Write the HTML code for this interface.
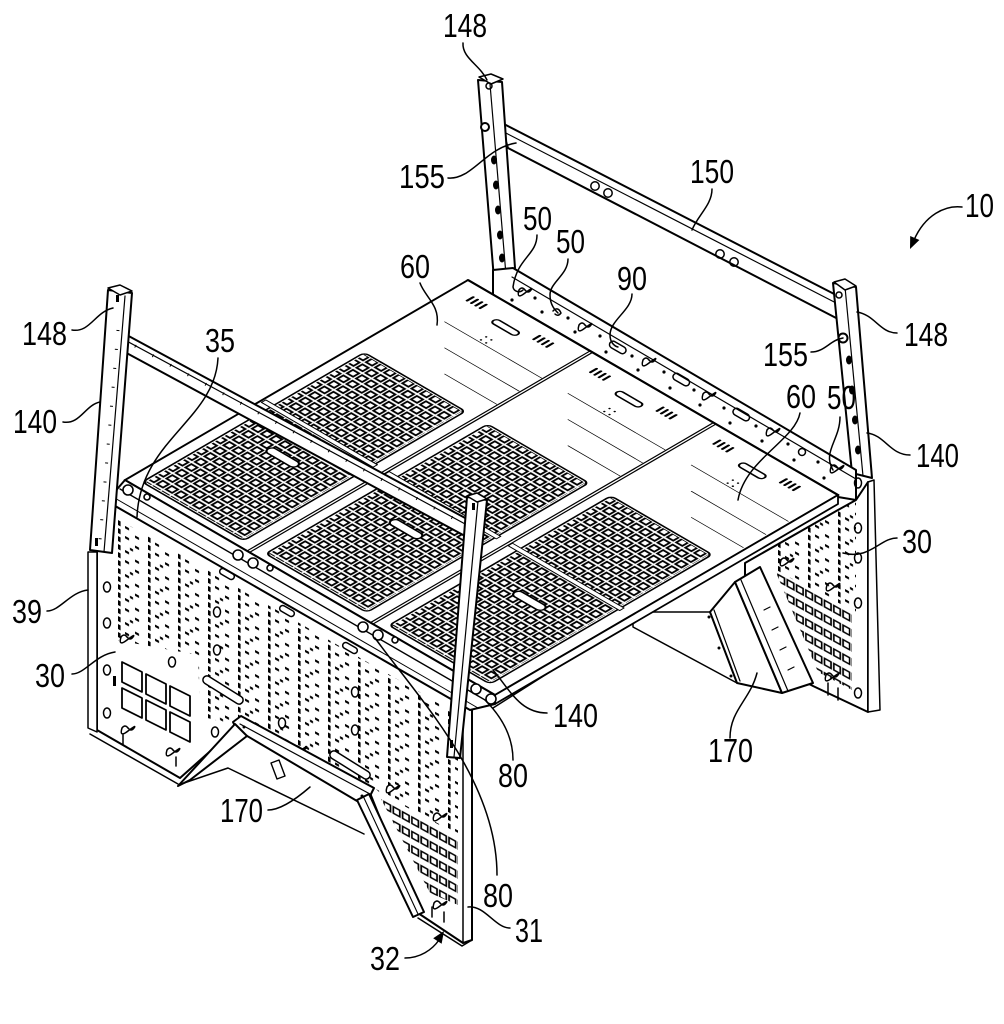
<!DOCTYPE html>
<html><head><meta charset="utf-8">
<style>
html,body{margin:0;padding:0;background:#fff;}
svg{display:block;}
text{font-family:"Liberation Sans",Arial,sans-serif;font-size:33px;fill:#000;}
</style></head><body>
<svg width="1004" height="1024" viewBox="0 0 1004 1024" xmlns="http://www.w3.org/2000/svg">
<defs>
 <pattern id="holes" width="10.5" height="11" patternUnits="userSpaceOnUse">
  <rect x="1.6" y="1.8" width="7" height="6.8" fill="#fff" stroke="#000" stroke-width="2.1"/>
 </pattern>
 <pattern id="perf" width="30" height="24" patternUnits="userSpaceOnUse" patternTransform="translate(118,520) skewY(29)">
  <rect x="0" y="0" width="2.6" height="5" fill="#000"/>
  <rect x="0" y="8" width="2.6" height="5" fill="#000"/>
  <rect x="0" y="16" width="2.6" height="5" fill="#000"/>
  <rect x="7" y="2" width="4" height="2.4" fill="#000"/>
  <rect x="17" y="6" width="4" height="2.4" fill="#000"/>
  <rect x="7" y="12" width="4" height="2.4" fill="#000"/>
  <rect x="17" y="16" width="4" height="2.4" fill="#000"/>
  <rect x="12" y="21" width="3" height="2.4" fill="#000"/>
 </pattern>
 <pattern id="sqf" width="9.3" height="14.5" patternUnits="userSpaceOnUse" patternTransform="translate(383,800) skewY(29)">
  <rect x="1" y="1" width="6.5" height="6.5" fill="#fff" stroke="#000" stroke-width="1.7"/>
 </pattern>
 <pattern id="sqr" width="9.3" height="14.5" patternUnits="userSpaceOnUse" patternTransform="translate(777,573) skewY(29)">
  <rect x="1" y="1" width="6.5" height="6.5" fill="#fff" stroke="#000" stroke-width="1.7"/>
 </pattern>
 <clipPath id="cpFront"><polygon points="116,518 458,714 458,835 380,793 372,785 245,728 200,716 198,655 116,640"/></clipPath>
 <clipPath id="cpSqF"><polygon points="380,797 458,838 458,905 430,893"/></clipPath>
 <clipPath id="cpSqR"><polygon points="775,570 852,613 852,690 818,672"/></clipPath>
 <clipPath id="cpRP"><polygon points="772,548 838,510 856,500 856,612 775,570"/></clipPath>
</defs>

<g fill="none" stroke="#000" stroke-linejoin="round" stroke-linecap="round">

<!-- ========== BACK FRAME ========== -->
<polygon points="500,122 840,297 840,320 508,148" fill="#fff" stroke-width="2"/>
<line x1="500" y1="130" x2="840" y2="305" stroke-width="1.2"/>
<circle cx="595" cy="186" r="4.2" stroke-width="1.5"/>
<circle cx="608" cy="193" r="4.2" stroke-width="1.5"/>
<circle cx="720" cy="254" r="4.2" stroke-width="1.5"/>
<circle cx="734" cy="262" r="4.2" stroke-width="1.5"/>

<polygon points="478,80 502,82 515,268 495,292" fill="#fff" stroke-width="2"/>
<line x1="490" y1="84" x2="506" y2="275" stroke-width="1.2"/>
<polygon points="479,77 491,74 503,79 491,84" fill="#fff" stroke-width="1.5"/>
<circle cx="489" cy="86" r="3" stroke-width="1.5"/>
<circle cx="485" cy="127" r="4" fill="#fff" stroke-width="2"/>
<g fill="#000" stroke="none">
<ellipse cx="494" cy="160" rx="3" ry="4.5"/><ellipse cx="496" cy="185" rx="3" ry="4.5"/>
<ellipse cx="498" cy="210" rx="3" ry="4.5"/><ellipse cx="500" cy="235" rx="3" ry="4.5"/>
<ellipse cx="502" cy="258" rx="3" ry="4.5"/>
</g>

<polygon points="833,283 856,287 872,478 852,473" fill="#fff" stroke-width="2"/>
<line x1="845" y1="287" x2="863" y2="476" stroke-width="1.2"/>
<polygon points="834,282 845,279 856,286 845,290" fill="#fff" stroke-width="1.5"/>
<circle cx="839" cy="295" r="3" stroke-width="1.5"/>
<circle cx="843" cy="338" r="4.5" fill="#fff" stroke-width="2"/>
<g fill="#000" stroke="none">
<ellipse cx="849" cy="360" rx="3" ry="4.5"/><ellipse cx="852" cy="390" rx="3" ry="4.5"/>
<ellipse cx="855" cy="420" rx="3" ry="4.5"/><ellipse cx="858" cy="450" rx="3" ry="4.5"/>
</g>

<polygon points="493,270 513,268 856,470 856,500 838,497 493,297" fill="#fff" stroke-width="2"/>
<line x1="512" y1="277" x2="856" y2="479" stroke-width="1.2"/>
<g stroke-width="1.5">
<path d="M519,290 q3,-4 6,0 t6,0 t-6,3 t-6,-3z"/>
<path d="M553,311 q5,-5 8,2 q-3,4 -6,1"/>
<path d="M579,325 q3,-4 6,0 t6,0 t-6,3 t-6,-3z"/>
<rect x="609" y="344" width="18" height="7" rx="3.5" transform="rotate(30 618 347)"/>
<path d="M643,360 q3,-4 6,0 t6,0 t-6,3 t-6,-3z"/>
<rect x="672" y="376" width="18" height="7" rx="3.5" transform="rotate(30 681 380)"/>
<path d="M703,394 q3,-4 6,0 t6,0 t-6,3 t-6,-3z"/>
<rect x="732" y="411" width="18" height="7" rx="3.5" transform="rotate(30 741 415)"/>
<path d="M767,430 q3,-4 6,0 t6,0 t-6,3 t-6,-3z"/>
<circle cx="802" cy="452" r="3.5"/>
<path d="M831,467 q3,-4 6,0 t6,0 t-6,3 t-6,-3z"/>
</g>
<g fill="#000" stroke="none">
<circle cx="512" cy="300" r="1.6"/><circle cx="535" cy="298" r="1.6"/><circle cx="542" cy="312" r="1.6"/>
<circle cx="568" cy="318" r="1.6"/><circle cx="575" cy="332" r="1.6"/><circle cx="600" cy="336" r="1.6"/>
<circle cx="606" cy="352" r="1.6"/><circle cx="632" cy="356" r="1.6"/><circle cx="638" cy="370" r="1.6"/>
<circle cx="664" cy="372" r="1.6"/><circle cx="670" cy="388" r="1.6"/><circle cx="694" cy="390" r="1.6"/>
<circle cx="700" cy="405" r="1.6"/><circle cx="724" cy="408" r="1.6"/><circle cx="730" cy="423" r="1.6"/>
<circle cx="756" cy="426" r="1.6"/><circle cx="762" cy="441" r="1.6"/><circle cx="788" cy="444" r="1.6"/>
<circle cx="794" cy="460" r="1.6"/><circle cx="818" cy="462" r="1.6"/><circle cx="824" cy="478" r="1.6"/>
</g>

<!-- ========== RIGHT PANEL ========== -->
<polygon points="745,563 838,510 856,500 868,482 868,712 813,686 745,650" fill="#fff" stroke-width="2"/>
<polygon points="868,482 874,480 880,710 868,712" fill="#fff" stroke-width="1.5"/>
<rect x="740" y="490" width="130" height="130" fill="url(#perf)" stroke="none" clip-path="url(#cpRP)"/>
<rect x="770" y="565" width="90" height="130" fill="url(#sqr)" stroke="none" clip-path="url(#cpSqR)"/>
<g stroke-width="1.5">
<ellipse cx="858" cy="483" rx="3.5" ry="5"/><ellipse cx="858" cy="528" rx="3.5" ry="5"/>
<ellipse cx="858" cy="558" rx="3.5" ry="5"/><ellipse cx="858" cy="603" rx="3.5" ry="5"/>
<ellipse cx="858" cy="693" rx="3.5" ry="5"/>
<path d="M781,560 q3,-4 6,0 t6,0 t-6,3 t-6,-3z"/>
<path d="M827,585 q3,-4 6,0 t6,0 t-6,3 t-6,-3z"/>
<path d="M826,675 q3,-4 6,0 t6,0 t-6,3 t-6,-3z"/>
<line x1="828" y1="683" x2="828" y2="695"/><line x1="838" y1="688" x2="838" y2="700"/>
</g>

<polygon points="633,612 710,612 737,683 633,627" fill="#fff" stroke-width="1.5"/>
<polygon points="710,612 735,582 782,693 737,683" fill="#fff" stroke-width="2"/>
<polygon points="735,582 760,567 813,683 782,693" fill="#fff" stroke-width="2"/>
<line x1="741" y1="580" x2="788" y2="691" stroke-width="1.2"/>
<line x1="714" y1="610" x2="740" y2="681" stroke-width="1.2"/>
<g stroke-width="1.2">
<line x1="764" y1="610" x2="770" y2="607"/><line x1="772" y1="630" x2="778" y2="627"/>
<line x1="780" y1="650" x2="786" y2="647"/><line x1="788" y1="670" x2="794" y2="667"/>
</g>
<circle cx="709" cy="617" r="1.5" fill="#000" stroke="none"/>
<circle cx="719" cy="648" r="1.5" fill="#000" stroke="none"/>
<circle cx="731" cy="676" r="1.5" fill="#000" stroke="none"/>

<polyline points="493,708 632,620 632,612" stroke-width="1.5"/>

<!-- ========== SHELF ========== -->
<g transform="matrix(0.8645 0.5023 -0.864 0.5038 468 280)">
 <polygon points="0,0 428,0 428,397 0,397" fill="#fff" stroke-width="2.2"/>
 <g>
  <rect x="14" y="134" width="113" height="253" fill="url(#holes)" stroke="none"/>
  <rect x="12" y="132" width="117" height="257" rx="5" stroke-width="1.8"/>
  <rect x="52" y="279" width="34" height="9" rx="4.5" fill="#fff" stroke-width="1.8"/>
  <rect x="2" y="236" width="129" height="5" fill="#fff" stroke-width="1.1"/>
  <rect x="55" y="22" width="28" height="7" rx="3.5" stroke-width="1.8"/>
  <g stroke-width="2.4"><line x1="20" y1="14" x2="20" y2="21"/><line x1="25" y1="14" x2="25" y2="21"/><line x1="30" y1="14" x2="30" y2="21"/><line x1="35" y1="14" x2="35" y2="21"/>
  <line x1="97" y1="14" x2="97" y2="21"/><line x1="102" y1="14" x2="102" y2="21"/><line x1="107" y1="14" x2="107" y2="21"/><line x1="112" y1="14" x2="112" y2="21"/></g>
  <g fill="#000" stroke="none"><circle cx="67" cy="46" r="1"/><circle cx="73" cy="46" r="1"/><circle cx="67" cy="52" r="1"/><circle cx="73" cy="52" r="1"/></g>
  <g stroke-width="0.8"><line x1="28" y1="55" x2="140" y2="55"/><line x1="54" y1="81" x2="140" y2="81"/><line x1="80" y1="107" x2="140" y2="107"/></g>
 </g>
 <g transform="translate(142.67 0)">
  <rect x="14" y="134" width="113" height="253" fill="url(#holes)" stroke="none"/>
  <rect x="12" y="132" width="117" height="257" rx="5" stroke-width="1.8"/>
  <rect x="52" y="279" width="34" height="9" rx="4.5" fill="#fff" stroke-width="1.8"/>
  <rect x="2" y="236" width="129" height="5" fill="#fff" stroke-width="1.1"/>
  <rect x="55" y="22" width="28" height="7" rx="3.5" stroke-width="1.8"/>
  <g stroke-width="2.4"><line x1="20" y1="14" x2="20" y2="21"/><line x1="25" y1="14" x2="25" y2="21"/><line x1="30" y1="14" x2="30" y2="21"/><line x1="35" y1="14" x2="35" y2="21"/>
  <line x1="97" y1="14" x2="97" y2="21"/><line x1="102" y1="14" x2="102" y2="21"/><line x1="107" y1="14" x2="107" y2="21"/><line x1="112" y1="14" x2="112" y2="21"/></g>
  <g fill="#000" stroke="none"><circle cx="67" cy="46" r="1"/><circle cx="73" cy="46" r="1"/><circle cx="67" cy="52" r="1"/><circle cx="73" cy="52" r="1"/></g>
  <g stroke-width="0.8"><line x1="28" y1="55" x2="140" y2="55"/><line x1="54" y1="81" x2="140" y2="81"/><line x1="80" y1="107" x2="140" y2="107"/></g>
 </g>
 <g transform="translate(285.33 0)">
  <rect x="14" y="134" width="113" height="253" fill="url(#holes)" stroke="none"/>
  <rect x="12" y="132" width="117" height="257" rx="5" stroke-width="1.8"/>
  <rect x="52" y="279" width="34" height="9" rx="4.5" fill="#fff" stroke-width="1.8"/>
  <rect x="2" y="236" width="129" height="5" fill="#fff" stroke-width="1.1"/>
  <rect x="55" y="22" width="28" height="7" rx="3.5" stroke-width="1.8"/>
  <g stroke-width="2.4"><line x1="20" y1="14" x2="20" y2="21"/><line x1="25" y1="14" x2="25" y2="21"/><line x1="30" y1="14" x2="30" y2="21"/><line x1="35" y1="14" x2="35" y2="21"/>
  <line x1="97" y1="14" x2="97" y2="21"/><line x1="102" y1="14" x2="102" y2="21"/><line x1="107" y1="14" x2="107" y2="21"/><line x1="112" y1="14" x2="112" y2="21"/></g>
  <g fill="#000" stroke="none"><circle cx="67" cy="46" r="1"/><circle cx="73" cy="46" r="1"/><circle cx="67" cy="52" r="1"/><circle cx="73" cy="52" r="1"/></g>
  <g stroke-width="0.8"><line x1="28" y1="55" x2="140" y2="55"/><line x1="54" y1="81" x2="140" y2="81"/><line x1="80" y1="107" x2="140" y2="107"/></g>
 </g>
 <g stroke-width="1.4">
  <line x1="141.2" y1="0" x2="141.2" y2="397"/><line x1="144.1" y1="0" x2="144.1" y2="397"/>
  <line x1="283.9" y1="0" x2="283.9" y2="397"/><line x1="286.8" y1="0" x2="286.8" y2="397"/>
 </g>
 <line x1="0" y1="0" x2="428" y2="0" stroke-width="2.4"/>
</g>

<polygon points="495,695 838,495 838,504 495,704" fill="#fff" stroke-width="1.8"/>

<!-- ========== FRONT PANEL ========== -->
<polygon points="110,503 468,707 472,707 472,940 463,943 418,913 370,793 243,722 180,778 97,730 97,508" fill="#fff" stroke-width="2"/>
<line x1="463" y1="707" x2="463" y2="943" stroke-width="1.5"/>
<polygon points="88,552 97,552 97,732 88,728" fill="#fff" stroke-width="1.5"/>
<polyline points="90,734 178,784" stroke-width="1.5"/>
<polyline points="418,918 462,946 472,940" stroke-width="1.5"/>
<rect x="110" y="510" width="360" height="330" fill="url(#perf)" stroke="none" clip-path="url(#cpFront)"/>
<rect x="375" y="790" width="90" height="120" fill="url(#sqf)" stroke="none" clip-path="url(#cpSqF)"/>
<g fill="#fff" stroke-width="1.8">
<polygon points="122,662 142,672 142,692 122,682"/>
<polygon points="122,688 142,698 142,718 122,708"/>
<polygon points="146,674 166,684 166,704 146,694"/>
<polygon points="146,700 166,710 166,730 146,720"/>
<polygon points="170,686 190,696 190,716 170,706"/>
<polygon points="170,712 190,722 190,742 170,732"/>
</g>
<rect x="113" y="676" width="3" height="10" fill="#000" stroke="none"/>
<g stroke-width="1.5" fill="#fff">
<ellipse cx="107" cy="587" rx="3.5" ry="5"/><ellipse cx="107" cy="623" rx="3.5" ry="5"/>
<ellipse cx="107" cy="670" rx="3.5" ry="5"/><ellipse cx="107" cy="713" rx="3.5" ry="5"/>
<ellipse cx="172" cy="662" rx="3.5" ry="5"/><ellipse cx="217" cy="612" rx="3.5" ry="5"/>
<ellipse cx="217" cy="650" rx="3.5" ry="5"/><ellipse cx="282" cy="723" rx="3.5" ry="5"/>
<ellipse cx="215" cy="732" rx="3.5" ry="5"/><ellipse cx="355" cy="692" rx="3.5" ry="5"/>
<ellipse cx="355" cy="730" rx="3.5" ry="5"/>
<rect x="200" y="686" width="46" height="8" rx="4" transform="rotate(32 223 690)"/>
<rect x="327" y="761" width="46" height="8" rx="4" transform="rotate(32 350 765)"/>
<rect x="219" y="571" width="16" height="6" rx="3" transform="rotate(30 227 574)"/>
<rect x="279" y="608" width="16" height="6" rx="3" transform="rotate(30 287 611)"/>
<rect x="342" y="645" width="16" height="6" rx="3" transform="rotate(30 350 648)"/>
<path d="M121,637 q3,-4 6,0 t6,0 t-6,3 t-6,-3z"/>
<path d="M122,728 q3,-4 6,0 t6,0 t-6,3 t-6,-3z"/>
<path d="M167,750 q3,-4 6,0 t6,0 t-6,3 t-6,-3z"/>
<path d="M294,748 q3,-4 6,0 t6,0 t-6,3 t-6,-3z"/>
<path d="M387,787 q3,-4 6,0 t6,0 t-6,3 t-6,-3z"/>
<path d="M434,815 q3,-4 6,0 t6,0 t-6,3 t-6,-3z"/>
<path d="M434,903 q3,-4 6,0 t6,0 t-6,3 t-6,-3z"/>
</g>
<g stroke-width="1.5">
<line x1="432" y1="907" x2="432" y2="917"/><line x1="444" y1="912" x2="444" y2="922"/>
<line x1="123" y1="735" x2="123" y2="745"/><line x1="176" y1="757" x2="176" y2="766"/>
</g>

<polygon points="233,722 241,716 374,788 368,800 357,801 237,730" fill="#fff" stroke-width="2"/>
<line x1="240" y1="724" x2="370" y2="794" stroke-width="1.2"/>
<polygon points="235,724 247,736 190,780 178,786" fill="#fff" stroke-width="2"/>
<polygon points="357,800 369,794 424,912 413,917" fill="#fff" stroke-width="2"/>
<line x1="364" y1="798" x2="418" y2="914" stroke-width="1.1"/>
<polyline points="184,783 228,768 364,834" stroke-width="1.5"/>
<polygon points="271,763 279,760 285,776 277,779" fill="#fff" stroke-width="1.4"/>
<circle cx="244" cy="727" r="1.5" fill="#000" stroke="none"/>
<circle cx="362" cy="796" r="1.5" fill="#000" stroke="none"/>

<polygon points="125,480 495,695 495,704 470,710 110,503 112,495" fill="#fff" stroke-width="2"/>
<line x1="120" y1="489" x2="492" y2="704" stroke-width="1.4"/>
<line x1="113" y1="497" x2="478" y2="708" stroke-width="1"/>

<g fill="#fff" stroke-width="1.6">
<circle cx="128" cy="490" r="5"/><circle cx="238" cy="555" r="5"/><circle cx="253" cy="563" r="5"/>
<circle cx="363" cy="627" r="5"/><circle cx="378" cy="635" r="5"/><circle cx="476" cy="689" r="5"/>
<circle cx="491" cy="699" r="5"/>
<circle cx="147" cy="497" r="3"/><circle cx="270" cy="568" r="3"/><circle cx="395" cy="640" r="3"/>
</g>

<!-- ========== FRONT FRAME ========== -->
<polygon points="123,333 467,519 465,536 121,350" fill="#fff" stroke-width="2"/>
<line x1="123" y1="339" x2="467" y2="525" stroke-width="1.2"/>
<line x1="135" y1="346" x2="462" y2="523" stroke-width="3" stroke-dasharray="1 19" stroke-linecap="butt"/>
<polygon points="108,290 132,293 112,553 90,550" fill="#fff" stroke-width="2"/>
<line x1="125" y1="296" x2="104" y2="552" stroke-width="1.2"/>
<line x1="118" y1="330" x2="100" y2="540" stroke-width="3" stroke-dasharray="1 18" stroke-linecap="butt"/>
<polygon points="108,288 120,285 132,291 120,295" fill="#fff" stroke-width="1.5"/>
<rect x="116" y="295" width="3" height="7" fill="#000" stroke="none"/>
<rect x="95" y="538" width="3" height="8" fill="#000" stroke="none"/>
<polygon points="467,497 487,500 460,758 447,757" fill="#fff" stroke-width="2"/>
<line x1="478" y1="501" x2="454" y2="757" stroke-width="1.2"/>
<polygon points="467,496 477,493 487,499 477,502" fill="#fff" stroke-width="1.5"/>
<rect x="472" y="503" width="3" height="7" fill="#000" stroke="none"/>
<rect x="450" y="740" width="3" height="8" fill="#000" stroke="none"/>

<!-- ========== LEADERS ========== -->
<g stroke-width="1.5">
<path d="M463,43 C462,58 480,65 487,80"/>
<path d="M448,178 C472,180 485,148 516,143"/>
<path d="M712,189 C712,205 698,215 692,230"/>
<path d="M962,207 C945,205 925,215 914,240"/>
<path d="M537,235 C537,255 517,258 513,287 C514,292 520,293 523,290"/>
<path d="M568,259 C568,275 550,282 550,295 C550,305 555,310 558,313"/>
<path d="M632,294 C632,310 610,320 610,335 C610,342 614,346 618,347"/>
<path d="M420,283 C425,297 440,305 437,325"/>
<path d="M72,330 C90,333 95,312 113,308"/>
<path d="M218,358 C215,420 140,440 137,517"/>
<path d="M63,422 C80,425 85,405 100,402"/>
<path d="M897,333 C880,333 875,315 857,312"/>
<path d="M811,352 C825,352 830,340 843,338"/>
<path d="M800,413 C795,440 745,460 738,500"/>
<path d="M840,417 C840,440 822,452 833,470"/>
<path d="M910,455 C890,455 885,435 867,433"/>
<path d="M897,538 C880,538 870,560 843,553"/>
<path d="M47,611 C60,611 70,592 88,590"/>
<path d="M72,674 C85,674 95,655 115,652"/>
<path d="M547,713 C520,713 510,690 493,670"/>
<path d="M730,738 C730,710 750,700 757,673"/>
<path d="M513,760 C513,735 500,715 485,700"/>
<path d="M268,810 C280,810 295,800 310,787"/>
<path d="M497,875 C497,780 420,700 375,638"/>
<path d="M510,928 C495,928 485,905 468,907"/>
<path d="M405,958 C420,958 432,950 439,940"/>
</g>
<polygon points="910,249 919.4,240 910.2,236" fill="#000" stroke="none"/>
<polygon points="444,931 441.6,943.7 433.2,938.2" fill="#000" stroke="none"/>
</g>

<!-- ========== LABELS ========== -->
<text x="443" y="37" textLength="44" lengthAdjust="spacingAndGlyphs">148</text>
<text x="399" y="188" textLength="46" lengthAdjust="spacingAndGlyphs">155</text>
<text x="690" y="183" textLength="44" lengthAdjust="spacingAndGlyphs">150</text>
<text x="965" y="217" textLength="29" lengthAdjust="spacingAndGlyphs">10</text>
<text x="523" y="230" textLength="29" lengthAdjust="spacingAndGlyphs">50</text>
<text x="556" y="253" textLength="29" lengthAdjust="spacingAndGlyphs">50</text>
<text x="617" y="290" textLength="30" lengthAdjust="spacingAndGlyphs">90</text>
<text x="400" y="278" textLength="30" lengthAdjust="spacingAndGlyphs">60</text>
<text x="22" y="345" textLength="45" lengthAdjust="spacingAndGlyphs">148</text>
<text x="205" y="352" textLength="30" lengthAdjust="spacingAndGlyphs">35</text>
<text x="13" y="433" textLength="44" lengthAdjust="spacingAndGlyphs">140</text>
<text x="904" y="346" textLength="44" lengthAdjust="spacingAndGlyphs">148</text>
<text x="763" y="366" textLength="45" lengthAdjust="spacingAndGlyphs">155</text>
<text x="786" y="408" textLength="30" lengthAdjust="spacingAndGlyphs">60</text>
<text x="827" y="409" textLength="29" lengthAdjust="spacingAndGlyphs">50</text>
<text x="916" y="467" textLength="43" lengthAdjust="spacingAndGlyphs">140</text>
<text x="902" y="553" textLength="30" lengthAdjust="spacingAndGlyphs">30</text>
<text x="12" y="623" textLength="30" lengthAdjust="spacingAndGlyphs">39</text>
<text x="35" y="687" textLength="30" lengthAdjust="spacingAndGlyphs">30</text>
<text x="553" y="727" textLength="45" lengthAdjust="spacingAndGlyphs">140</text>
<text x="708" y="762" textLength="45" lengthAdjust="spacingAndGlyphs">170</text>
<text x="498" y="787" textLength="30" lengthAdjust="spacingAndGlyphs">80</text>
<text x="220" y="822" textLength="43" lengthAdjust="spacingAndGlyphs">170</text>
<text x="483" y="907" textLength="30" lengthAdjust="spacingAndGlyphs">80</text>
<text x="515" y="942" textLength="28" lengthAdjust="spacingAndGlyphs">31</text>
<text x="370" y="970" textLength="30" lengthAdjust="spacingAndGlyphs">32</text>
</svg>
</body></html>
